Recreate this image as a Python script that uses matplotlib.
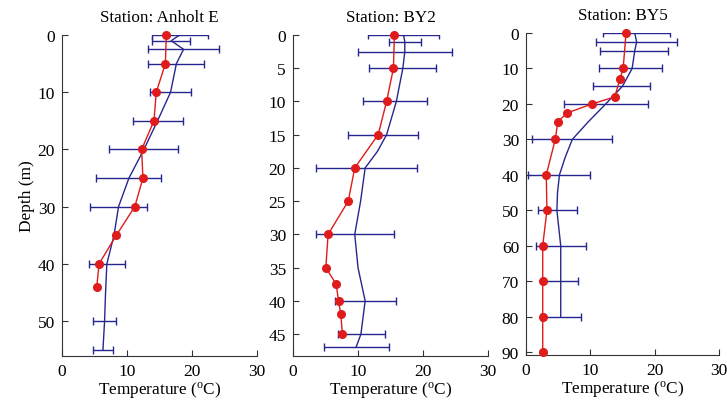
import numpy as np
import matplotlib
matplotlib.use('Agg')
import matplotlib.pyplot as plt

plt.rcParams['font.family'] = ['Liberation Serif', 'DejaVu Serif']
plt.rcParams['mathtext.fontset'] = 'custom'
plt.rcParams['mathtext.rm'] = 'Liberation Serif'
plt.rcParams['mathtext.it'] = 'Liberation Serif:italic'

# ---------------- data ----------------
stations = ['Anholt E', 'BY2', 'BY5']

# blue climatology profile (line)
anh_line_depth = [0, 1, 2.5, 5, 10, 15, 20, 25, 30, 35, 40, 45, 50, 55]
anh_line_temp = [18.1, 16.8, 18.7, 17.6, 16.7, 14.7, 12.6, 10.3, 8.7, 8.0, 6.9, 6.7, 6.55, 6.3]
by2_line_depth = [0, 1, 2.5, 5, 10, 15, 17.5, 20, 25, 30, 35, 40, 45, 47]
by2_line_temp = [17.0, 17.2, 17.2, 16.9, 15.9, 14.4, 13.0, 11.1, 10.4, 9.5, 10.0, 11.1, 10.45, 9.7]
by5_line_depth = [0, 2.5, 5, 10, 15, 20, 25, 30, 35, 40, 45, 50, 60, 70, 80]
by5_line_temp = [16.9, 17.2, 16.9, 16.5, 15.0, 12.4, 9.7, 7.2, 6.1, 5.2, 4.9, 4.8, 5.4, 5.4, 5.4]

# blue error bars (centre, half width)
anh_err_depth = [0, 1, 2.5, 5, 10, 15, 20, 25, 30, 40, 50, 55]
anh_err_mean = [18.15, 16.75, 18.7, 17.55, 16.7, 14.75, 12.6, 10.3, 8.75, 6.9, 6.55, 6.3]
anh_err_half = [4.35, 2.95, 5.4, 4.3, 3.2, 3.85, 5.3, 5.0, 4.4, 2.75, 1.8, 1.55]
by2_err_depth = [0, 1, 2.5, 5, 10, 15, 20, 30, 40, 45, 47]
by2_err_mean = [17.05, 17.2, 17.2, 16.9, 15.7, 13.9, 11.3, 9.55, 11.15, 10.5, 9.7]
by2_err_half = [5.45, 2.5, 7.2, 5.15, 4.9, 5.4, 7.7, 5.95, 4.65, 3.6, 5.0]
by5_err_depth = [0, 2.5, 5, 10, 15, 20, 30, 40, 50, 60, 70, 80]
by5_err_mean = [17.15, 17.15, 16.75, 16.3, 14.85, 12.4, 7.15, 5.15, 4.9, 5.4, 5.4, 5.4]
by5_err_half = [5.25, 6.25, 5.25, 4.9, 4.45, 6.5, 6.25, 4.85, 3.0, 3.9, 2.7, 3.1]

# red observed profile
anh_obs_depth = [0, 5, 10, 15, 20, 25, 30, 35, 40, 44]
anh_obs_temp = [16.05, 15.9, 14.5, 14.15, 12.25, 12.45, 11.2, 8.35, 5.7, 5.35]
by2_obs_depth = [0, 5, 10, 15, 20, 25, 30, 35, 37.5, 40, 42, 45]
by2_obs_temp = [15.6, 15.45, 14.4, 13.1, 9.5, 8.5, 5.4, 5.05, 6.65, 7.0, 7.35, 7.6]
by5_obs_depth = [0, 10, 13, 18, 20, 22.5, 25, 30, 40, 50, 60, 70, 80, 90]
by5_obs_temp = [15.55, 15.1, 14.6, 13.8, 10.3, 6.45, 4.95, 4.55, 3.15, 3.25, 2.6, 2.6, 2.6, 2.6]

blue = '#262690'
red = '#e01b1b'

panels = [
    (anh_line_depth, anh_line_temp, anh_err_depth, anh_err_mean, anh_err_half,
     anh_obs_depth, anh_obs_temp, 56.1, np.arange(0, 51, 10)),
    (by2_line_depth, by2_line_temp, by2_err_depth, by2_err_mean, by2_err_half,
     by2_obs_depth, by2_obs_temp, 48.3, np.arange(0, 46, 5)),
    (by5_line_depth, by5_line_temp, by5_err_depth, by5_err_mean, by5_err_half,
     by5_obs_depth, by5_obs_temp, 90.8, np.arange(0, 91, 10)),
]

# axes rectangles in pixels: left, right, top, bottom
W, H = 727, 410
boxes = [(62, 257, 36, 357), (293, 488, 36, 357), (526, 719, 34, 356)]

fig = plt.figure(figsize=(W / 100, H / 100), dpi=100)

for i, (name, p, box) in enumerate(zip(stations, panels, boxes)):
    ld, lt, ed, em, eh, od, ot, ymax, yticks = p
    l, r, t, b = box
    ax = fig.add_axes([l / W, 1 - b / H, (r - l) / W, (b - t) / H])

    ax.plot(lt, ld, color=blue, lw=1.0, zorder=2)
    ax.errorbar(em, ed, xerr=eh, fmt='none', ecolor=blue, elinewidth=1.0,
                capsize=2.6, capthick=1.0, zorder=2)
    ax.plot(ot, od, color=red, lw=1.0, marker='o', ms=5.5, mec=red, mfc=red,
            zorder=3, clip_on=False)

    ax.set_xlim(0, 30)
    ax.set_ylim(ymax, 0)
    ax.set_xticks([0, 10, 20, 30])
    ax.set_yticks(yticks)
    ax.spines['top'].set_visible(False)
    ax.spines['right'].set_visible(False)
    ax.spines['left'].set_color('#333333')
    ax.spines['bottom'].set_color('#333333')
    ax.tick_params(direction='in', length=4, width=0.8, labelsize=12.5,
                   colors='#333333', labelcolor='black', pad=5)
    ax.set_title('Station: ' + name, fontsize=12.3, pad=10)
    ax.set_xlabel(r'Temperature ($^{\mathrm{o}}$C)', fontsize=12.4, labelpad=0)
    if i == 0:
        ax.set_ylabel('Depth (m)', fontsize=12.4, labelpad=2)

fig.savefig('out.png', dpi=100)
